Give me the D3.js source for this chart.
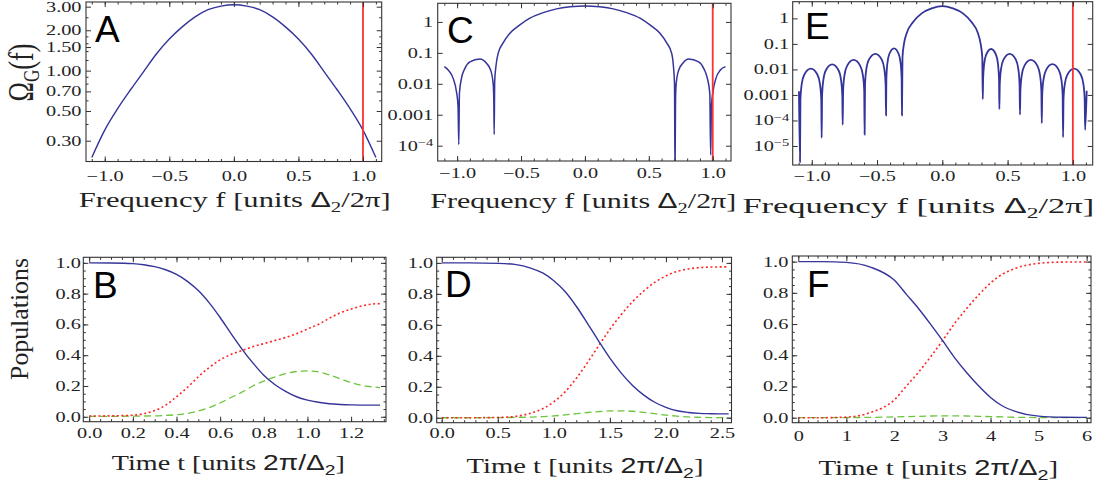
<!DOCTYPE html>
<html><head><meta charset="utf-8">
<script src="https://cdn.jsdelivr.net/npm/d3@7"></script>
<style>body{margin:0;background:#fff}</style>
</head><body>
<svg id="c" width="1099" height="487"></svg>
<script>
// ---------- DATA ----------
// Panel A: Gaussian spectrum
const aF = [-1.1,-1.0,-0.9,-0.8,-0.7,-0.6,-0.5,-0.4,-0.3,-0.2,-0.1,0,0.1,0.2,0.3,0.4,0.5,0.6,0.7,0.8,0.9,1.0,1.1];
const aV = [0.225,0.36,0.52,0.72,0.98,1.33,1.72,2.12,2.52,2.85,3.03,3.1,3.03,2.85,2.52,2.12,1.72,1.33,0.98,0.72,0.52,0.36,0.225];
// Panel C spectrum
const cF = [-1.1,-1.07,-1.031,-1.005,-0.993,-0.987,-0.982,-0.966,-0.94,-0.90,-0.822,-0.77,-0.738,-0.718,-0.713,-0.710,-0.706,-0.697,-0.679,-0.64,-0.587,-0.509,-0.431,-0.326,-0.222,-0.117,0,0.117,0.222,0.326,0.431,0.509,0.587,0.64,0.679,0.693,0.701,0.705,0.709,0.714,0.734,0.766,0.81,0.89,0.93,0.958,0.977,0.984,0.99,1.002,1.025,1.06,1.1];
const cV = [0.036,0.028,0.015,0.0055,0.002,1.1e-4,0.005,0.015,0.031,0.051,0.063,0.046,0.028,0.010,0.003,2.3e-4,0.012,0.035,0.096,0.21,0.43,0.80,1.32,2.0,2.64,3.07,3.3,3.07,2.64,2.0,1.32,0.80,0.43,0.21,0.096,0.035,0.01,1e-5,0.003,0.010,0.028,0.046,0.063,0.051,0.031,0.015,0.005,5e-5,0.002,0.0055,0.015,0.028,0.036];
// Panel E spectrum
const eF = [-1.098,-1.090,-1.0867,-1.0767,-1.0568,-1.007,-0.9572,-0.9373,-0.9273,-0.924,
 -0.9208,-0.9111,-0.8918,-0.8435,-0.7952,-0.7759,-0.7662,-0.763,
 -0.7596,-0.7496,-0.7294,-0.679,-0.6286,-0.6084,-0.5984,-0.595,
 -0.5917,-0.5819,-0.5622,-0.513,-0.4638,-0.4441,-0.4343,-0.431,
 -0.4286,-0.4212,-0.4066,-0.370,-0.3334,-0.3188,-0.3114,-0.309,
 -0.305,-0.293,-0.273,-0.222,-0.158,-0.081,0,0.081,0.158,0.222,0.273,0.293,0.306,0.31,
 0.3125,0.3202,0.3354,0.3735,0.4116,0.4268,0.4345,0.437,
 0.4402,0.4496,0.4686,0.516,0.5634,0.5824,0.5918,0.595,
 0.5983,0.6084,0.6284,0.6785,0.7286,0.7486,0.7587,0.762,
 0.7653,0.775,0.7946,0.8435,0.8924,0.912,0.9217,0.925,
 0.9284,0.9385,0.9588,1.0095,1.0602,1.0805,1.0906,1.094,1.106];
const eV = [1.4e-3,2.4e-6,6.7e-4,2.7e-3,6.3e-3,0.0107,6.3e-3,2.7e-3,6.7e-4,2.1e-5,
 1.0e-3,3.9e-3,9.3e-3,0.0158,9.3e-3,3.9e-3,1.0e-3,6.8e-5,
 1.5e-3,5.9e-3,0.0138,0.0235,0.0138,5.9e-3,1.5e-3,2.8e-5,
 2.6e-3,0.0102,0.0241,0.041,0.0241,0.0102,2.6e-3,1.6e-4,
 4.2e-3,0.0167,0.0394,0.067,0.0394,0.0167,4.2e-3,1.6e-4,
 0.03,0.105,0.26,0.74,1.57,2.46,3.03,2.46,1.57,0.74,0.26,0.105,0.03,6.8e-4,
 4.0e-3,0.0157,0.037,0.063,0.037,0.0157,4.0e-3,2.8e-4,
 2.6e-3,0.0102,0.0241,0.041,0.0241,0.0102,2.6e-3,1.7e-4,
 1.5e-3,5.9e-3,0.0138,0.0235,0.0138,5.9e-3,1.5e-3,7.9e-5,
 1.0e-3,4.0e-3,9.4e-3,0.016,9.4e-3,4.0e-3,1.0e-3,2.2e-5,
 6.7e-4,2.7e-3,6.3e-3,0.0107,6.3e-3,2.7e-3,6.7e-4,4.3e-5,1.45e-3];
// Panel B populations
const bT = [0,0.1,0.2,0.25,0.3,0.35,0.4,0.45,0.5,0.55,0.6,0.65,0.7,0.75,0.8,0.85,0.9,0.95,1.0,1.05,1.1,1.15,1.2,1.25,1.3,1.333];
const bBlue = [1.0,0.999,0.995,0.988,0.975,0.955,0.925,0.88,0.82,0.74,0.645,0.54,0.44,0.35,0.27,0.21,0.165,0.13,0.108,0.094,0.085,0.08,0.077,0.076,0.076,0.076];
const bRed = [0.005,0.006,0.01,0.02,0.04,0.075,0.13,0.19,0.26,0.32,0.37,0.405,0.43,0.455,0.475,0.495,0.515,0.54,0.57,0.60,0.64,0.675,0.70,0.72,0.733,0.735];
const bGreen = [0.003,0.003,0.004,0.005,0.006,0.009,0.013,0.022,0.038,0.06,0.09,0.125,0.16,0.2,0.232,0.258,0.28,0.294,0.298,0.292,0.272,0.247,0.222,0.204,0.194,0.19];
// Panel D populations
const dT = [0,0.25,0.5,0.65,0.8,0.9,1.0,1.1,1.2,1.3,1.4,1.5,1.6,1.7,1.8,1.9,2.0,2.1,2.2,2.3,2.4,2.5,2.56];
const dBlue = [1.0,1.0,0.997,0.99,0.965,0.935,0.885,0.815,0.72,0.61,0.495,0.385,0.29,0.21,0.148,0.1,0.067,0.045,0.034,0.028,0.026,0.025,0.025];
const dRed = [0,0,0.002,0.008,0.031,0.058,0.103,0.167,0.254,0.356,0.465,0.571,0.665,0.748,0.817,0.874,0.916,0.945,0.961,0.969,0.973,0.974,0.974];
const dGreen = [0,0,0.001,0.002,0.004,0.007,0.012,0.018,0.026,0.034,0.04,0.044,0.045,0.042,0.035,0.026,0.017,0.01,0.005,0.003,0.001,0.001,0.001];
// Panel F populations
const fT = [0,0.5,1.0,1.5,2.0,2.25,2.5,2.75,3.0,3.25,3.5,3.75,4.0,4.25,4.5,5.0,5.5,6.0];
const fBlue = [1.0,1.0,0.995,0.965,0.88,0.79,0.7,0.6,0.495,0.385,0.29,0.205,0.13,0.075,0.042,0.01,0.003,0.002];
const fRed = [0,0,0.004,0.033,0.115,0.203,0.291,0.389,0.493,0.603,0.699,0.786,0.863,0.92,0.955,0.989,0.997,0.998];
const fGreen = [0,0,0.001,0.002,0.005,0.007,0.009,0.011,0.012,0.012,0.011,0.009,0.007,0.005,0.003,0.001,0,0];

// tick values
const freqTicks = [-1.0,-0.5,0.0,0.5,1.0];
const aYTicks = [0.3,0.5,0.7,1.0,1.5,2.0,3.0];
const cYTicks = [1,0.1,0.01,0.001,1e-4];
const eYTicks = [1,0.1,0.01,0.001,1e-4,1e-5];
const popTicks = [0,0.2,0.4,0.6,0.8,1.0];
const bXTicks = [0,0.2,0.4,0.6,0.8,1.0,1.2];
const dXTicks = [0,0.5,1.0,1.5,2.0,2.5];
const fXTicks = [0,1,2,3,4,5,6];
const markerF = 1.0;

// ---------- DRAWING ----------
const BLUE = "#34349a", RED = "#ff2424", GREEN = "#6cc43c", INK = "#333";
const svg = d3.select("#c");
const SX = 1.45;
const serif = "Liberation Serif, Times New Roman, serif";
const sans = "Liberation Sans, Arial, sans-serif";

function range(a, b, s) { const r = []; for (let v = a; v <= b + 1e-9; v += s) r.push(+v.toFixed(6)); return r; }
const fmt1 = d => (d < 0 ? "\u2212" : "") + Math.abs(d).toFixed(1);

function styleText(sel) {
  sel.selectAll("text").attr("font-family", serif).attr("font-size", 14).attr("fill", "#222")
     .attr("transform", `scale(${SX},1)`);
}

function panel(cfg) {
  const [x0, x1, y0, y1] = cfg.box;
  const x = d3.scaleLinear().domain(cfg.xDomain).range([x0, x1]);
  const y = (cfg.log ? d3.scaleLog() : d3.scaleLinear()).domain(cfg.yDomain).range([y1, y0]);
  const g = svg.append("g");
  const id = "clip" + cfg.letter;
  svg.append("clipPath").attr("id", id).append("rect")
    .attr("x", x0).attr("y", y0).attr("width", x1 - x0).attr("height", y1 - y0);
  const plot = g.append("g").attr("clip-path", `url(#${id})`);
  cfg.series.forEach(s => {
    const line = d3.line().x((d, i) => x(s.x[i])).y(d => y(d)).curve(d3.curveMonotoneX);
    plot.append("path").attr("d", line(s.y)).attr("fill", "none")
      .attr("stroke", s.color).attr("stroke-width", s.w || 1.4)
      .attr("stroke-dasharray", s.dash || null);
  });
  if (cfg.marker != null) {
    plot.append("line").attr("x1", x(cfg.marker)).attr("x2", x(cfg.marker))
      .attr("y1", y0).attr("y2", y1).attr("stroke", "#ff3030").attr("stroke-width", 1.8);
  }
  const clean = s => { s.select(".domain").remove(); s.attr("color", INK); };
  g.append("g").attr("transform", `translate(0,${y1})`)
    .call(d3.axisBottom(x).tickValues(cfg.xTicks).tickSizeInner(-5).tickSizeOuter(0)
      .tickPadding(cfg.xPad).tickFormat(cfg.xFmt)).call(clean).call(styleText);
  g.append("g").attr("transform", `translate(0,${y1})`)
    .call(d3.axisBottom(x).tickValues(cfg.xMinor).tickSize(-2.5).tickFormat("")).call(clean);
  g.append("g").attr("transform", `translate(0,${y0})`)
    .call(d3.axisTop(x).tickValues(cfg.xTicks).tickSize(-5).tickFormat("")).call(clean);
  g.append("g").attr("transform", `translate(0,${y0})`)
    .call(d3.axisTop(x).tickValues(cfg.xMinor).tickSize(-2.5).tickFormat("")).call(clean);
  const yl = g.append("g").attr("transform", `translate(${x0},0)`)
    .call(d3.axisLeft(y).tickValues(cfg.yTicks).tickSizeInner(-5).tickSizeOuter(0)
      .tickPadding(cfg.yPad / SX).tickFormat(cfg.yFmt)).call(clean).call(styleText);
  if (cfg.supFmt) {
    yl.selectAll(".tick text").each(function (d) {
      if (d < 0.001) {
        const t = d3.select(this); t.text("");
        t.append("tspan").text("10");
        t.append("tspan").attr("dy", "-0.45em").attr("font-size", 10).text("\u2212" + Math.round(-Math.log10(d)));
      }
    });
  }
  g.append("g").attr("transform", `translate(${x0},0)`)
    .call(d3.axisLeft(y).tickValues(cfg.yMinor).tickSize(-2.5).tickFormat("")).call(clean);
  g.append("g").attr("transform", `translate(${x1},0)`)
    .call(d3.axisRight(y).tickValues(cfg.yTicks).tickSize(-5).tickFormat("")).call(clean);
  g.append("g").attr("transform", `translate(${x1},0)`)
    .call(d3.axisRight(y).tickValues(cfg.yMinor).tickSize(-2.5).tickFormat("")).call(clean);
  g.append("rect").attr("x", x0).attr("y", y0).attr("width", x1 - x0).attr("height", y1 - y0)
    .attr("fill", "none").attr("stroke", INK).attr("stroke-width", 1.1);
  svg.append("text").attr("x", cfg.lx).attr("y", cfg.ly).attr("font-family", sans)
    .attr("font-size", 37).attr("fill", "#000").text(cfg.letter);
}

const popY = [-0.032, 1.036];
const popMinor = range(0, 1, 0.05);

panel({letter:"A", box:[86,381.7,2,161.5], xDomain:[-1.145,1.145], yDomain:[0.21,3.25], log:true,
  xTicks:freqTicks, xMinor:range(-1.1,1.1,0.1), xFmt:fmt1, xPad:9.5,
  yTicks:aYTicks, yMinor:[0.4,0.6,0.8,0.9,1.2,1.4,1.6,1.8,2.5], yFmt:d=>d.toFixed(2), yPad:4.5,
  series:[{x:aF, y:aV, color:BLUE}], marker:markerF, lx:95, ly:41.7});
panel({letter:"C", box:[437.7,731,3.3,161], xDomain:[-1.152,1.143], yDomain:[3.2e-5,4.0], log:true,
  xTicks:freqTicks, xMinor:range(-1.1,1.1,0.1), xFmt:fmt1, xPad:7,
  yTicks:cYTicks, yMinor:[], yFmt:d=>d>=0.001?String(d):"", supFmt:true, yPad:4.5,
  series:[{x:cF, y:cV, color:BLUE, w:1.5}], marker:markerF, lx:447, ly:43});
panel({letter:"E", box:[792.7,1092.7,1.7,165], xDomain:[-1.146,1.152], yDomain:[1.8e-6,4.5], log:true,
  xTicks:freqTicks, xMinor:range(-1.1,1.1,0.1), xFmt:fmt1, xPad:6,
  yTicks:eYTicks, yMinor:[], yFmt:d=>d>=0.001?String(d):"", supFmt:true, yPad:3.5,
  series:[{x:eF, y:eV, color:BLUE, w:1.8}], marker:markerF, lx:805, ly:39});

const popSeries = (t, b, r, gr) => [
  {x:t, y:gr, color:GREEN, dash:"7,4", w:1.3},
  {x:t, y:r, color:RED, dash:"2,2.6", w:1.6},
  {x:t, y:b, color:BLUE, w:1.4}];

panel({letter:"B", box:[83.3,386,257.3,421.7], xDomain:[-0.027,1.36], yDomain:popY,
  xTicks:bXTicks, xMinor:range(0,1.35,0.05), xFmt:d=>d.toFixed(1), xPad:6,
  yTicks:popTicks, yMinor:popMinor, yFmt:d=>d.toFixed(1), yPad:2.5,
  series:popSeries(bT,bBlue,bRed,bGreen), lx:93, ly:298});
panel({letter:"D", box:[436.7,731.5,257.3,422.7], xDomain:[-0.045,2.585], yDomain:popY,
  xTicks:dXTicks, xMinor:range(0,2.5,0.1), xFmt:d=>d.toFixed(1), xPad:5.5,
  yTicks:popTicks, yMinor:popMinor, yFmt:d=>d.toFixed(1), yPad:3.5,
  series:popSeries(dT,dBlue,dRed,dGreen), lx:445, ly:297});
panel({letter:"F", box:[792.3,1091,256,422.7], xDomain:[-0.125,6.09], yDomain:popY,
  xTicks:fXTicks, xMinor:range(0,6,0.2), xFmt:d=>String(d), xPad:8,
  yTicks:popTicks, yMinor:popMinor, yFmt:d=>d.toFixed(1), yPad:4,
  series:popSeries(fT,fBlue,fRed,fGreen), lx:807, ly:297});

// axis titles: glyphs stretched horizontally to the measured width
function fit(t, cx, by, len) {
  const nat = t.node().getComputedTextLength();
  t.attr("transform", `translate(${cx},${by}) scale(${len / nat},1)`);
}
function freqTitle(cx, by, len) {
  const t = svg.append("text").attr("text-anchor", "middle")
    .attr("font-family", serif).attr("font-size", 22).attr("fill", "#222");
  t.append("tspan").text("Frequency f [units ");
  t.append("tspan").attr("font-family", sans).text("\u0394");
  t.append("tspan").attr("font-size", 15).attr("dy", 5).text("2");
  t.append("tspan").attr("dy", -5).text("/2\u03c0]");
  fit(t, cx, by, len);
}
function timeTitle(cx, by, len) {
  const t = svg.append("text").attr("text-anchor", "middle")
    .attr("font-family", serif).attr("font-size", 22).attr("fill", "#222");
  t.append("tspan").text("Time t [units ");
  t.append("tspan").attr("font-family", sans).text("2\u03c0/\u0394");
  t.append("tspan").attr("font-family", sans).attr("font-size", 15).attr("dy", 5).text("2");
  t.append("tspan").attr("dy", -5).text("]");
  fit(t, cx, by, len);
}
freqTitle(234.7, 207, 312);
freqTitle(583.3, 208.3, 306);
freqTitle(918.3, 213.3, 352);
timeTitle(228.3, 470, 233);
timeTitle(585, 473.3, 237);
timeTitle(938.3, 475, 240);

// y titles (rotated; glyph height stretched)
const om = svg.append("text").attr("text-anchor", "middle").attr("font-family", serif)
  .attr("font-size", 26).attr("fill", "#222");
om.append("tspan").text("\u03a9");
om.append("tspan").attr("font-size", 17).attr("dy", 4).text("G");
om.append("tspan").attr("dy", -4).text("(f)");
{ const nat = om.node().getComputedTextLength();
  om.attr("transform", `translate(33,72.5) rotate(-90) scale(${58 / nat},1.4)`); }
const pop = svg.append("text").attr("text-anchor", "middle").attr("font-family", serif)
  .attr("font-size", 22).attr("fill", "#222").text("Populations");
{ const nat = pop.node().getComputedTextLength();
  pop.attr("transform", `translate(28,319) rotate(-90) scale(${122 / nat},1.15)`); }
</script>
</body></html>
